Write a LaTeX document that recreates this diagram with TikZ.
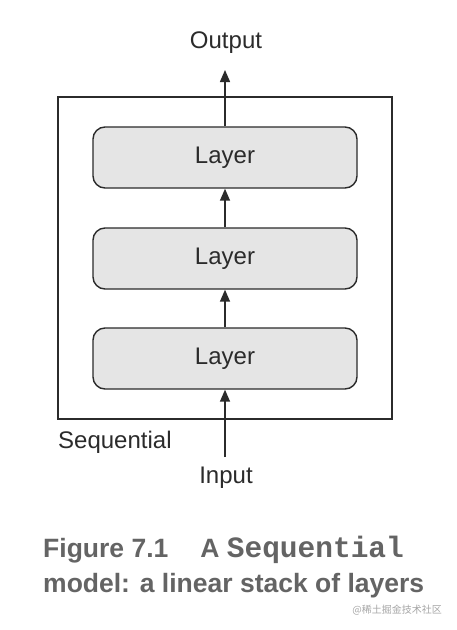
\documentclass[tikz,border=0pt]{standalone}
\usepackage{fontspec}
\setmainfont{Liberation Sans}
\newfontfamily\capmono{Liberation Mono}
\newfontfamily\cjk{Noto Sans CJK SC}
\usetikzlibrary{arrows.meta}
\definecolor{linec}{HTML}{2B2B2B}
\definecolor{layerfill}{HTML}{E5E5E5}
\definecolor{capc}{HTML}{646464}
\begin{document}
\begin{tikzpicture}[x=1pt,y=-1pt,
  lbl/.style={font=\fontsize{24}{27}\selectfont, text=linec, inner sep=0pt},
  layerbox/.style={draw=linec, line width=1.4pt, fill=layerfill, rounded corners=12pt,
    minimum width=264pt, minimum height=61pt, font=\fontsize{24}{27}\selectfont, text=linec},
  seqbox/.style={draw=linec, line width=1.4pt, minimum width=334pt, minimum height=322pt},
  flow/.style={draw=linec, line width=1.5pt, -{Triangle[length=12pt,width=10pt]}},
  captxt/.style={font=\bfseries\fontsize{26.5}{30}\selectfont, text=capc, inner sep=0pt, anchor=base west}
]
\useasboundingbox (0,0) rectangle (456,630);
\fill[white] (0,0) rectangle (456,630);

\node[seqbox] (seq) at (225,258) {};
\node[layerbox] (l1) at (225,157.5) {Layer};
\node[layerbox] (l2) at (225,258.5) {Layer};
\node[layerbox] (l3) at (225,358.5) {Layer};

\node[lbl] (out) at (226,43) {Output};
\node[lbl] (in) at (226,478) {Input};
\node[lbl, anchor=west] (seqlbl) at (58,442) {Sequential};

\coordinate (outtip) at (225,70);
\coordinate (instart) at (225,457);

\draw[flow] (l1.north) -- (outtip);
\draw[flow] (l2.north) -- (l1.south);
\draw[flow] (l3.north) -- (l2.south);
\draw[flow] (instart) -- (l3.south);

\node[captxt] (cap1) at (43,557) {Figure 7.1\hspace{32pt}A {\capmono\fontsize{29.5}{30}\selectfont Sequential}};
\node[captxt] (cap2) at (43,592) {model: a linear stack of layers};

\node[font=\cjk\fontsize{10}{12}\selectfont, text=black!35, anchor=east, inner sep=0pt] (wm) at (442,610) {@稀土掘金技术社区};
\end{tikzpicture}
\end{document}
